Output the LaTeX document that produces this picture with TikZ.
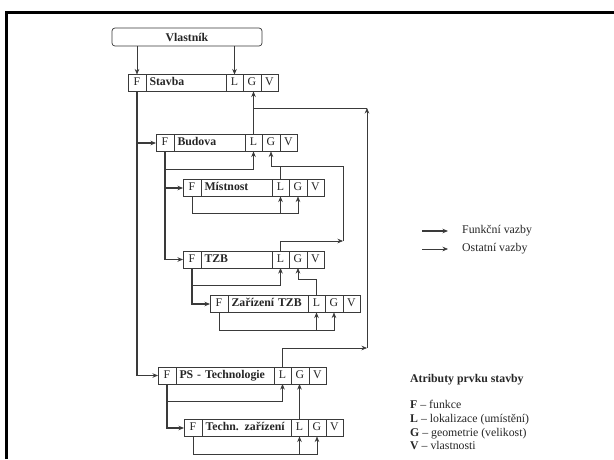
\documentclass[tikz,border=0pt]{standalone}
\usepackage{fontspec}
\setmainfont{Liberation Serif}
\usetikzlibrary{positioning,calc,arrows.meta}
\definecolor{linka}{HTML}{3A3A3A}
\definecolor{pismo}{HTML}{262626}
\tikzset{
    bunka/.style={draw=linka, line width=.6pt, minimum height=17pt, minimum width=17pt,
        text height=7.5pt, text depth=2pt, inner sep=0pt, outer sep=0pt, text=pismo},
    fvazba/.style={draw=linka, line width=1.8pt, ->},
    ovazba/.style={draw=linka, line width=.6pt, ->},
    tenka/.style={draw=linka, line width=.6pt},
}
% prvek stavby: jmeno, x leveho okraje, y stredu, nazev, sirka textu nazvu
\newcommand{\prvek}[5]{%
    \node[bunka, anchor=west, minimum width=18pt] (#1F) at (#2,#3) {F};
    \node[bunka, right=0pt of #1F, text width=#5pt, inner xsep=3.5pt, align=left] (#1N) {\bfseries #4};
    \node[bunka, right=0pt of #1N] (#1L) {L};
    \node[bunka, right=0pt of #1L, minimum width=18pt] (#1G) {G};
    \node[bunka, right=0pt of #1G] (#1V) {V};
}
\begin{document}
\fontsize{11.8}{14}\selectfont
\begin{tikzpicture}[x=1pt, y=-1pt, >={Stealth[length=5.5pt, width=4.5pt]}]
    \fill[white] (0,0) rectangle (614,459);
    \useasboundingbox (0,0) rectangle (614,459);
    \draw[line width=2.5pt, black] (6.5,459) -- (6.5,12.5) -- (614,12.5); % ramecek
    \node[draw=linka, line width=.7pt, rounded corners=3pt, minimum width=150pt, minimum height=18pt,
        text=pismo] (vl) at (187,37) {\bfseries Vlastník};
    \prvek{stav}{128}{83}{Stavba}{73}
    \prvek{bud}{156}{143}{Budova}{64}
    \prvek{mist}{183}{188}{Místnost}{64}
    \prvek{tzb}{183}{259.5}{TZB}{64}
    \prvek{zar}{210}{304}{Zařízení TZB}{73}
    \prvek{ps}{158}{375.5}{PS - Technologie}{91}
    \prvek{tech}{184}{428}{Techn. zařízení}{82}
    % vlastnik
    \draw[ovazba] (vl.south -| stavF.north) -- (stavF.north);
    \draw[ovazba] (vl.south -| stavL.north) -- (stavL.north);
    % funkcni vazby
    \draw[fvazba] (stavF.south) |- (budF.west);
    \draw[fvazba] (stavF.south) |- (psF.west);
    \draw[fvazba] (budF.south) |- (mistF.west);
    \draw[fvazba] (budF.south) |- (tzbF.west);
    \draw[fvazba] (tzbF.south) |- (zarF.west);
    \draw[fvazba] (psF.south) |- (techF.west);
    % ostatni vazby
    \coordinate (pravo1) at (343,166);
    \coordinate (pravo2) at (343,241);
    \coordinate (pravo3) at (367,108);
    \coordinate (pravo4) at (367,348);
    \draw[ovazba] (budL.north) -- (budL.north |- stavG.south);
    \draw[ovazba] (pravo4) -- (pravo3);
    \draw[tenka] (pravo3) -- (budL.north |- pravo3);
    \draw[ovazba] (psL.north) |- (pravo4);
    \draw[ovazba] (budF.south) ++(0,18) -| (budL.south);
    \draw[tenka] (mistL.north) |- (pravo1);
    \draw[ovazba] (pravo2) |- (pravo1 -| budG.south) -- (budG.south);
    \draw[ovazba] (tzbL.north) |- (pravo2);
    \draw[ovazba] (mistF.south) -- ++(0,17) coordinate (mist1) -| (mistG.south);
    \draw[ovazba] (mist1 -| mistL.south) -- (mistL.south);
    \draw[ovazba] (tzbF.south) ++(0,17.5) -| (tzbL.south);
    \draw[ovazba] (zarL.north) -- ++(0,-16) -| (tzbG.south);
    \draw[ovazba] (zarF.south) -- ++(0,17.5) coordinate (zar1) -| (zarG.south);
    \draw[ovazba] (zar1 -| zarL.south) -- (zarL.south);
    \draw[ovazba] (psF.south) ++(0,17) -| (psL.south);
    \draw[ovazba] (techL.north) -- (techL.north |- psG.south);
    \draw[ovazba] (techF.south) -- ++(0,18) coordinate (tech1) -| (techG.south);
    \draw[ovazba] (tech1 -| techL.south) -- (techL.south);
    % legenda
    \coordinate (lf) at (422,231);
    \coordinate (lo) at (422,249);
    \draw[fvazba] (lf) -- ++(26,0);
    \draw[ovazba] (lo) -- ++(26,0);
    \node[anchor=west, inner sep=0pt, text=pismo] (lfunk) at (462,231) {Funkční vazby};
    \node[anchor=west, inner sep=0pt, text=pismo] (lost) at (462,249) {Ostatní vazby};
    \node[anchor=base west, inner sep=0pt, text=pismo] (atr) at (410,382.5) {\bfseries Atributy prvku stavby};
    \foreach \pis/\txt [count=\i] in {F/funkce, L/{lokalizace (umístění)}, G/{geometrie (velikost)}, V/vlastnosti}
        \node[anchor=base west, inner sep=0pt, text=pismo] (atr\pis) at (410,394.7+13.8*\i) {\textbf{\pis} – \txt};
\end{tikzpicture}
\end{document}
